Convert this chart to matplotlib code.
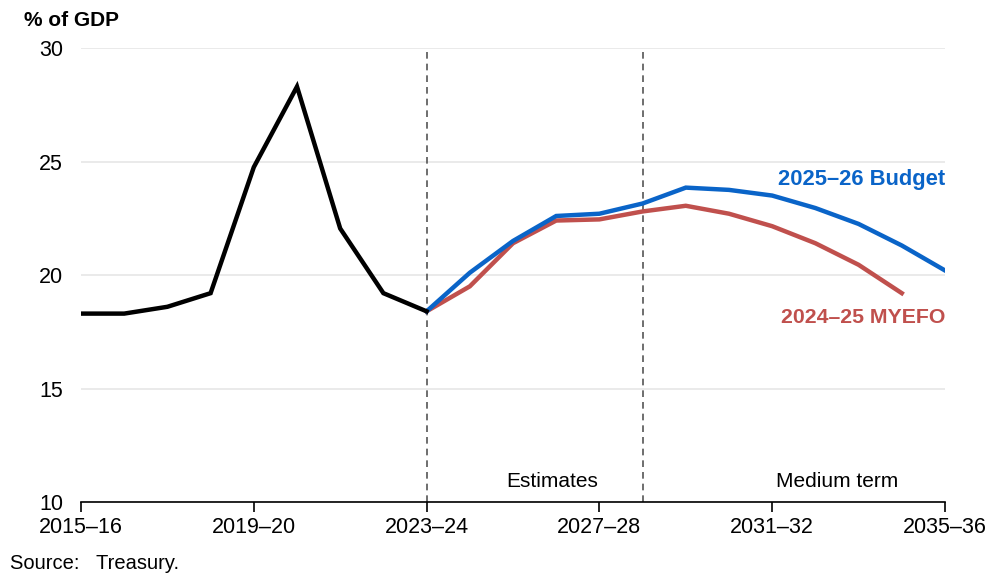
import numpy as np
import matplotlib.pyplot as plt

plt.rcParams['font.family'] = ['Liberation Sans', 'DejaVu Sans']

# financial years 2015-16 .. 2035-36
years = [f'{y}\u2013{str(y + 1)[-2:]}' for y in range(2015, 2036)]

# actuals (2015-16 to 2023-24)
actual = [18.3, 18.3, 18.6, 19.2, 24.75, 28.3, 22.05, 19.2, 18.4]

# projections from 2023-24 onwards
budget = [18.4, 20.1, 21.5, 22.6, 22.7, 23.15, 23.85, 23.75, 23.5, 22.95,
          22.25, 21.3, 20.2]
myefo = [18.4, 19.5, 21.4, 22.4, 22.45, 22.8, 23.05, 22.7, 22.15, 21.4,
         20.45, 19.2]

blue = '#0A64C8'
red = '#C0504D'

fig = plt.figure(figsize=(9.89, 5.73), dpi=100)
ax = fig.add_axes([0.0819, 0.1239, 0.8736, 0.7923])

x_act = np.arange(len(actual))
x_bud = np.arange(8, 8 + len(budget))
x_mye = np.arange(8, 8 + len(myefo))

# phase dividers
for xv in (8, 13):
    ax.axvline(xv, color='#555555', lw=1.2, ls=(0, (4, 3)), zorder=2)

ax.plot(x_mye, myefo, color=red, lw=3.2, solid_joinstyle='miter', zorder=3)
ax.plot(x_bud, budget, color=blue, lw=3.2, solid_joinstyle='miter', zorder=4)
ax.plot(x_act, actual, color='black', lw=3.2, solid_joinstyle='miter', zorder=5)

ax.set_xlim(0, 20)
ax.set_ylim(10, 30)
ax.set_yticks([10, 15, 20, 25, 30])
ax.yaxis.grid(True, color='#E6E6E6', lw=1.2)
ax.set_axisbelow(True)

ax.set_xticks(range(0, 21, 4))
ax.set_xticklabels([years[i] for i in range(0, 21, 4)])
ax.tick_params(axis='x', direction='out', length=7, width=1.2, pad=4,
               labelsize=15.5, colors='black')
ax.tick_params(axis='y', length=0, pad=13, labelsize=15.5)

for s in ('top', 'right', 'left'):
    ax.spines[s].set_visible(False)
ax.spines['bottom'].set_linewidth(1.2)

ax.text(20, 24.2, '2025\u201326 Budget', color=blue, fontsize=15.8,
        fontweight='bold', ha='right', va='center')
ax.text(20, 18.15, '2024\u201325 MYEFO', color=red, fontsize=15.3,
        fontweight='bold', ha='right', va='center')

ax.text(10.9, 10.9, 'Estimates', fontsize=15, ha='center', va='center')
ax.text(17.5, 10.9, 'Medium term', fontsize=15, ha='center', va='center')

fig.text(0.024, 0.965, '% of GDP', fontsize=15, fontweight='bold',
         ha='left', va='center')
fig.text(0.010, 0.017, 'Source:   Treasury.', fontsize=14.5,
         ha='left', va='center')

fig.savefig('out.png', dpi=100)
